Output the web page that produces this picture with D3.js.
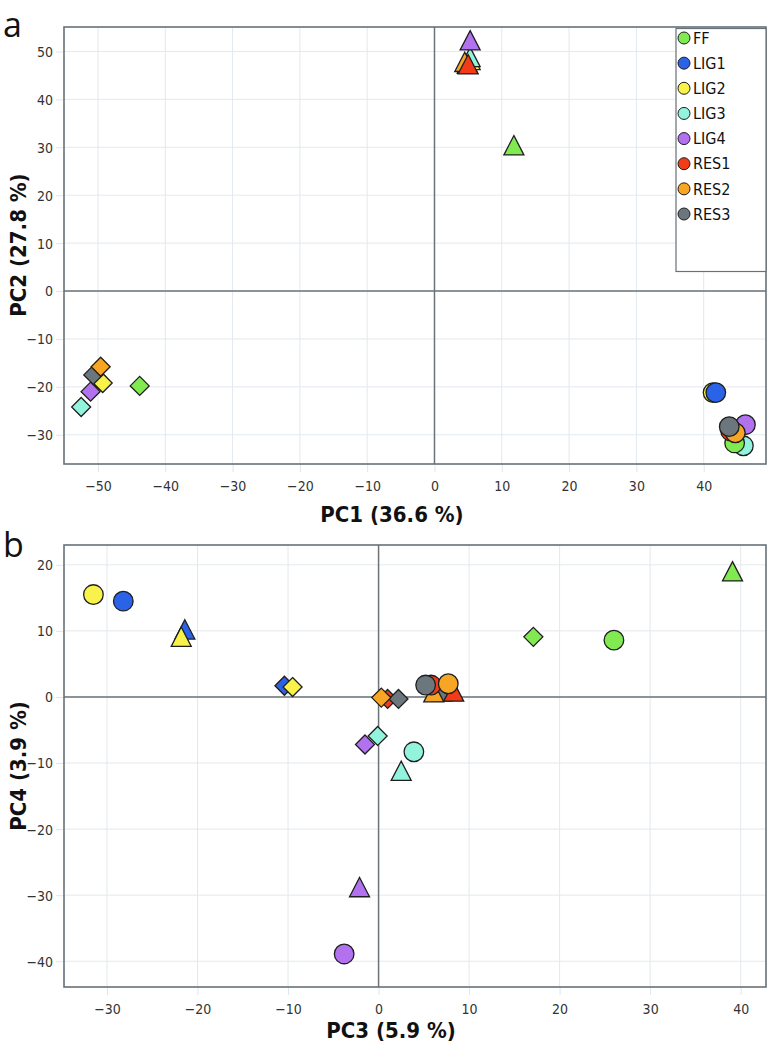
<!DOCTYPE html>
<html><head><meta charset="utf-8">
<script src="https://cdn.jsdelivr.net/npm/d3@7"></script>
<style>
html,body{margin:0;padding:0;background:#fff;}
svg{display:block;}
</style></head>
<body><svg id="chart" width="768" height="1050"></svg>
<script>
const series = ["FF","LIG1","LIG2","LIG3","LIG4","RES1","RES2","RES3"];
const colors = ["#80ea50","#2b63e8","#f8f24a","#92f4dc","#b271ef","#f33c17","#f6a524","#6b777d"];

// Panel a: PC1 / PC2
const aCircleX = [44.6, 41.8, 41.4, 45.9, 46.2, 44.0, 44.7, 43.8];
const aCircleY = [-31.7, -21.2, -21.2, -32.3, -27.9, -29.2, -29.6, -28.3];
const aTriX = [11.8, 4.9, 5.3, 5.3, 5.3, 5.0, 4.5, 4.9];
const aTriY = [30.4, 47.5, 48.2, 48.8, 52.3, 47.3, 47.8, 47.4];
const aDiaX = [-43.8, -49.8, -49.3, -52.5, -51.1, -50.2, -49.6, -50.7];
const aDiaY = [-19.8, -18.6, -19.2, -24.2, -21.0, -18.0, -15.8, -17.5];

// Panel b: PC3 / PC4
const bCircleX = [26.0, -28.2, -31.5, 3.9, -3.8, 5.8, 7.7, 5.2];
const bCircleY = [8.6, 14.5, 15.5, -8.3, -38.9, 1.8, 2.0, 1.8];
const bTriX = [39.1, -21.4, -21.8, 2.5, -2.1, 8.3, 6.1, 7.0];
const bTriY = [19.0, 10.2, 9.1, -11.2, -28.8, 0.8, 0.7, 0.8];
const bDiaX = [17.1, -10.4, -9.5, -0.1, -1.5, 1.0, 0.3, 2.2];
const bDiaY = [9.1, 1.7, 1.5, -5.9, -7.2, -0.3, -0.1, -0.3];

const aXTicks = [-50,-40,-30,-20,-10,0,10,20,30,40];
const aYTicks = [50,40,30,20,10,0,-10,-20,-30];
const bXTicks = [-30,-20,-10,0,10,20,30,40];
const bYTicks = [20,10,0,-10,-20,-30,-40];

// drawing order (back to front) for each marker shape
const circleOrder = ["LIG2","LIG3","FF","LIG4","RES1","RES2","RES3","LIG1"];
const triOrder = ["LIG1","RES3","LIG2","LIG3","LIG4","RES2","RES1","FF"];
const diaOrder = ["LIG1","RES1","LIG2","LIG3","LIG4","RES3","RES2","FF"];

const svg = d3.select("#chart");
const narrow = '"Liberation Sans Narrow","DejaVu Sans Condensed",sans-serif';

function panel(cfg){
  const {left,right,top,bottom,xDom,yDom,xTicks,yTicks} = cfg;
  const x = d3.scaleLinear().domain(xDom).range([left,right]);
  const y = d3.scaleLinear().domain(yDom).range([bottom,top]);
  const g = svg.append("g");
  g.append("g").selectAll("line").data(xTicks).join("line")
    .attr("x1",d=>x(d)).attr("x2",d=>x(d)).attr("y1",top).attr("y2",bottom)
    .attr("stroke","#e2e9ee").attr("stroke-width",1);
  g.append("g").selectAll("line").data(yTicks).join("line")
    .attr("y1",d=>y(d)).attr("y2",d=>y(d)).attr("x1",left).attr("x2",right)
    .attr("stroke","#e2e9ee").attr("stroke-width",1);
  const xa = g.append("g").attr("transform",`translate(0,${bottom})`)
    .call(d3.axisBottom(x).tickValues(xTicks).tickSize(8).tickPadding(9).tickFormat(d3.format("d")));
  const ya = g.append("g").attr("transform",`translate(${left},0)`)
    .call(d3.axisLeft(y).tickValues(yTicks).tickSize(8).tickPadding(3).tickFormat(d3.format("d")));
  [xa,ya].forEach(a=>{a.select(".domain").remove();
    a.selectAll(".tick line").attr("stroke","#dfe6ea");
    a.selectAll(".tick text").attr("fill","#333").style("font-family",narrow).style("font-size","14px");});
  ya.selectAll(".tick text").attr("dy","0.35em");
  g.append("line").attr("x1",x(0)).attr("x2",x(0)).attr("y1",top).attr("y2",bottom)
    .attr("stroke","#6b7379").attr("stroke-width",1.5);
  g.append("line").attr("y1",y(0)).attr("y2",y(0)).attr("x1",left).attr("x2",right)
    .attr("stroke","#6b7379").attr("stroke-width",1.5);
  g.append("rect").attr("x",left).attr("y",top).attr("width",right-left).attr("height",bottom-top)
    .attr("fill","none").attr("stroke","#66717a").attr("stroke-width",1.6);
  return {x,y,g};
}

function drawMarkers(p, cx, cy, tx, ty, dx, dy){
  const layer = p.g.append("g").attr("stroke","#1e1e1e").attr("stroke-width",1.3);
  const col = s => colors[series.indexOf(s)];
  const idx = s => series.indexOf(s);
  layer.append("g").selectAll("path").data(triOrder).join("path")
    .attr("d", s=>{const X=p.x(tx[idx(s)]),Y=p.y(ty[idx(s)]);
      return `M${X},${Y-9.8}L${X+10},${Y+9.5}L${X-10},${Y+9.5}Z`;})
    .attr("fill",col);
  layer.append("g").selectAll("path").data(diaOrder).join("path")
    .attr("d", s=>{const X=p.x(dx[idx(s)]),Y=p.y(dy[idx(s)]);
      return `M${X},${Y-9.5}L${X+9.5},${Y}L${X},${Y+9.5}L${X-9.5},${Y}Z`;})
    .attr("fill",col);
  layer.append("g").selectAll("circle").data(circleOrder).join("circle")
    .attr("cx",s=>p.x(cx[idx(s)])).attr("cy",s=>p.y(cy[idx(s)])).attr("r",9.8)
    .attr("fill",col);
}

const pa = panel({left:64,right:766,top:27,bottom:464,xDom:[-55.05,49.26],yDom:[-36.1,55.1],xTicks:aXTicks,yTicks:aYTicks});
drawMarkers(pa, aCircleX, aCircleY, aTriX, aTriY, aDiaX, aDiaY);

const lg = svg.append("g");
lg.append("rect").attr("x",676).attr("y",28.5).attr("width",90).attr("height",243)
  .attr("fill","#fff").attr("stroke","#66717a").attr("stroke-width",1.2);
const ly = d3.scalePoint().domain(series).range([38,214]);
lg.selectAll("circle").data(series).join("circle")
  .attr("cx",684).attr("cy",d=>ly(d)).attr("r",6).attr("fill",(d,i)=>colors[i])
  .attr("stroke","#1e1e1e").attr("stroke-width",1);
lg.selectAll("text").data(series).join("text")
  .attr("x",693).attr("y",d=>ly(d)).attr("dy","0.36em").text(d=>d)
  .style("font-family",'"DejaVu Sans Condensed","DejaVu Sans",sans-serif').style("font-size","16px").attr("fill","#111");

const pb = panel({left:64,right:766,top:545,bottom:987,xDom:[-34.75,42.8],yDom:[-43.9,23.0],xTicks:bXTicks,yTicks:bYTicks});
drawMarkers(pb, bCircleX, bCircleY, bTriX, bTriY, bDiaX, bDiaY);

function title(txt,x,y,rot){
  svg.append("text").attr("transform",`translate(${x},${y}) rotate(${rot})`)
    .attr("text-anchor","middle").attr("dy","0.35em").text(txt)
    .style("font-family",narrow)
    .style("font-weight","bold").style("font-size","22px").attr("fill","#111");
}
title("PC1 (36.6 %)",392,514,0);
title("PC2 (27.8 %)",18,245,-90);
title("PC3 (5.9 %)",391,1030,0);
title("PC4 (3.9 %)",18,766,-90);

[["a",37],["b",557]].forEach(([t,y])=>{
  svg.append("text").attr("x",3).attr("y",y).text(t)
    .style("font-family",'"Open Sans","DejaVu Sans",sans-serif').style("font-size","34px").attr("fill","#111");
});
</script></body></html>
